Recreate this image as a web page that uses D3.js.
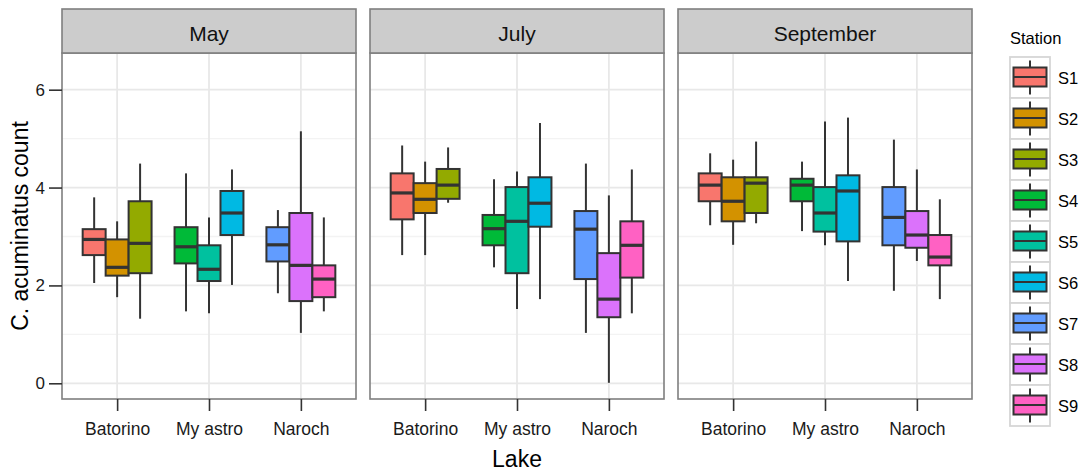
<!DOCTYPE html>
<html>
<head>
<meta charset="utf-8">
<script src="https://cdn.jsdelivr.net/npm/d3@7"></script>
<style>
  html, body { margin: 0; padding: 0; background: #ffffff; }
  svg { display: block; font-family: "Liberation Sans", Arial, sans-serif; }
</style>
</head>
<body>
<svg id="chart" width="1085" height="471"></svg>
<script>
// ---------- data ----------
const months = ["May", "July", "September"];
const lakes = ["Batorino", "My astro", "Naroch"];
const stations = ["S1", "S2", "S3", "S4", "S5", "S6", "S7", "S8", "S9"];
const stationLake = ["Batorino", "Batorino", "Batorino", "My astro", "My astro", "My astro", "Naroch", "Naroch", "Naroch"];
const stationColors = ["#F8766D", "#D39200", "#93AA00", "#00BA38", "#00C19F", "#00B9E3", "#619CFF", "#DB72FB", "#FF61C3"];
const yTicks = [0, 2, 4, 6];
const yMinor = [1, 3, 5];

// [lower whisker, Q1, median, Q3, upper whisker] per station S1..S9
const mayStats = [
  [2.05, 2.62, 2.94, 3.15, 3.80],
  [1.76, 2.20, 2.37, 2.94, 3.31],
  [1.32, 2.25, 2.86, 3.72, 4.49],
  [1.47, 2.45, 2.79, 3.19, 4.29],
  [1.43, 2.09, 2.33, 2.82, 3.39],
  [2.01, 3.03, 3.48, 3.93, 4.37],
  [1.84, 2.49, 2.83, 3.19, 3.54],
  [1.03, 1.68, 2.41, 3.48, 5.15],
  [1.47, 1.76, 2.13, 2.41, 3.39]
];
const julyStats = [
  [2.62, 3.35, 3.89, 4.29, 4.86],
  [2.62, 3.48, 3.76, 4.09, 4.53],
  [3.69, 3.77, 4.05, 4.38, 4.82],
  [2.37, 2.82, 3.16, 3.44, 4.17],
  [1.52, 2.25, 3.31, 4.01, 4.33],
  [1.72, 3.20, 3.68, 4.21, 5.32],
  [1.03, 2.13, 3.15, 3.52, 4.49],
  [0.01, 1.35, 1.72, 2.66, 3.84],
  [1.43, 2.16, 2.82, 3.31, 4.37]
];
const septemberStats = [
  [3.23, 3.72, 4.05, 4.29, 4.70],
  [2.83, 3.31, 3.72, 4.21, 4.57],
  [3.27, 3.48, 4.09, 4.21, 4.94],
  [3.11, 3.72, 4.05, 4.18, 4.53],
  [2.82, 3.10, 3.48, 4.01, 5.35],
  [2.09, 2.90, 3.93, 4.25, 5.43],
  [1.89, 2.82, 3.39, 4.01, 4.98],
  [2.50, 2.77, 3.03, 3.52, 4.37],
  [1.72, 2.41, 2.58, 3.03, 3.76]
];
const monthStats = [mayStats, julyStats, septemberStats];

// ---------- layout ----------
const svg = d3.select("#chart");
const panelLefts = [62, 370, 678];
const panelW = 294;
const stripTop = 9, panelTop = 53, panelBottom = 399;
const dark = "#333333";

const y = d3.scaleLinear().domain([-0.321, 6.75]).range([panelBottom, panelTop]);
const xLake = d3.scalePoint().domain(lakes).range([0, panelW]).padding(0.6);
const step = xLake.step();
const boxW = 0.25 * step;

months.forEach((m, pi) => {
  const g = svg.append("g").attr("transform", `translate(${panelLefts[pi]},0)`);
  g.append("rect").attr("x", 0).attr("y", panelTop).attr("width", panelW)
    .attr("height", panelBottom - panelTop).attr("fill", "#ffffff");
  g.selectAll(".ymin").data(yMinor).enter().append("line")
    .attr("x1", 0).attr("x2", panelW)
    .attr("y1", d => y(d)).attr("y2", d => y(d))
    .attr("stroke", "#f3f3f3").attr("stroke-width", 1.3);
  g.selectAll(".ymaj").data(yTicks).enter().append("line")
    .attr("x1", 0).attr("x2", panelW)
    .attr("y1", d => y(d)).attr("y2", d => y(d))
    .attr("stroke", "#e8e8e8").attr("stroke-width", 1.8);
  g.selectAll(".xmaj").data(lakes).enter().append("line")
    .attr("x1", d => xLake(d)).attr("x2", d => xLake(d))
    .attr("y1", panelTop).attr("y2", panelBottom)
    .attr("stroke", "#e8e8e8").attr("stroke-width", 1.8);

  const stats = monthStats[pi];
  stations.forEach((s, si) => {
    const lake = stationLake[si];
    const idxInLake = stations.filter((_, k) => stationLake[k] === lake).indexOf(s);
    const cx = xLake(lake) + (idxInLake - 1) * boxW;
    const [lo, q1, med, q3, hi] = stats[si];
    const bg = g.append("g");
    bg.append("line").attr("x1", cx).attr("x2", cx).attr("y1", y(hi)).attr("y2", y(q3))
      .attr("stroke", dark).attr("stroke-width", 2);
    bg.append("line").attr("x1", cx).attr("x2", cx).attr("y1", y(q1)).attr("y2", y(lo))
      .attr("stroke", dark).attr("stroke-width", 2);
    bg.append("rect").attr("x", cx - boxW / 2).attr("y", y(q3))
      .attr("width", boxW).attr("height", y(q1) - y(q3))
      .attr("fill", stationColors[si]).attr("stroke", dark).attr("stroke-width", 2);
    bg.append("line").attr("x1", cx - boxW / 2).attr("x2", cx + boxW / 2)
      .attr("y1", y(med)).attr("y2", y(med))
      .attr("stroke", dark).attr("stroke-width", 3.2);
  });

  g.append("rect").attr("x", 0).attr("y", panelTop).attr("width", panelW)
    .attr("height", panelBottom - panelTop).attr("fill", "none")
    .attr("stroke", "#7f7f7f").attr("stroke-width", 1.6);
  g.append("rect").attr("x", 0).attr("y", stripTop).attr("width", panelW)
    .attr("height", panelTop - stripTop).attr("fill", "#cccccc")
    .attr("stroke", "#7f7f7f").attr("stroke-width", 1.6);
  g.append("text").attr("x", panelW / 2).attr("y", 41).attr("text-anchor", "middle")
    .attr("font-size", 21).attr("fill", "#111").text(m);

  const xAxis = d3.axisBottom(xLake).tickSize(12).tickPadding(12);
  const ax = g.append("g").attr("transform", `translate(0,${panelBottom})`).call(xAxis);
  ax.select(".domain").remove();
  ax.selectAll(".tick line").attr("stroke", dark).attr("stroke-width", 1.6);
  ax.selectAll(".tick text").attr("font-size", 17.5).attr("fill", "#1a1a1a")
    .attr("font-family", "Liberation Sans, Arial, sans-serif");
});

const yAxis = d3.axisLeft(y).tickValues(yTicks).tickSize(13).tickPadding(4).tickFormat(d3.format("d"));
const yg = svg.append("g").attr("transform", `translate(${panelLefts[0]},0)`).call(yAxis);
yg.select(".domain").remove();
yg.selectAll(".tick line").attr("stroke", dark).attr("stroke-width", 1.6);
yg.selectAll(".tick text").attr("font-size", 17).attr("fill", "#1a1a1a")
  .attr("font-family", "Liberation Sans, Arial, sans-serif");

svg.append("text").attr("transform", `translate(28,${(panelTop + panelBottom) / 2}) rotate(-90)`)
  .attr("text-anchor", "middle").attr("font-size", 23).attr("fill", "#000")
  .text("C. acuminatus count");
svg.append("text").attr("x", (panelLefts[0] + panelLefts[2] + panelW) / 2).attr("y", 467)
  .attr("text-anchor", "middle").attr("font-size", 23).attr("fill", "#000").text("Lake");

const lg = svg.append("g");
lg.append("text").attr("x", 1010).attr("y", 44).attr("font-size", 16.5).attr("fill", "#000").text("Station");
const keyTop = 57, keyH = 41, keyX = 1010, keyW = 40;
stations.forEach((s, i) => {
  const t = keyTop + i * keyH;
  lg.append("rect").attr("x", keyX).attr("y", t).attr("width", keyW).attr("height", keyH)
    .attr("fill", "#ffffff").attr("stroke", "#d6d6d6").attr("stroke-width", 1.8);
  const cx = keyX + keyW / 2;
  lg.append("line").attr("x1", cx).attr("x2", cx).attr("y1", t + 3.5).attr("y2", t + keyH - 3.5)
    .attr("stroke", dark).attr("stroke-width", 2);
  lg.append("rect").attr("x", keyX + 3.5).attr("y", t + 10.5).attr("width", keyW - 7).attr("height", 19)
    .attr("fill", stationColors[i]).attr("stroke", dark).attr("stroke-width", 2);
  lg.append("line").attr("x1", keyX + 3.5).attr("x2", keyX + keyW - 3.5)
    .attr("y1", t + 20).attr("y2", t + 20).attr("stroke", dark).attr("stroke-width", 2);
  lg.append("text").attr("x", 1058).attr("y", t + 27).attr("font-size", 16.5).attr("fill", "#000").text(s);
});
</script>
</body>
</html>
